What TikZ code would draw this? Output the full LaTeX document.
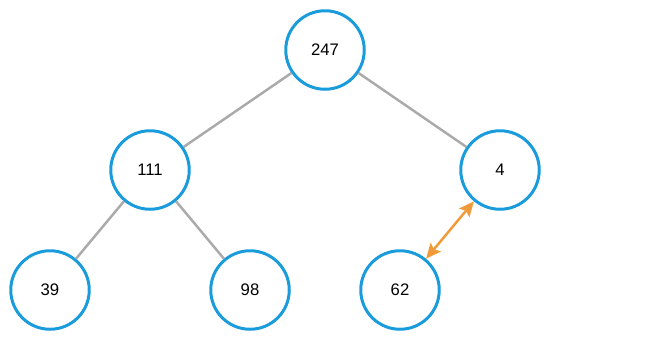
\documentclass[tikz,border=0pt]{standalone}
\usepackage{fontspec}
\setmainfont{Liberation Sans}
\usetikzlibrary{arrows.meta}
\definecolor{heapblue}{HTML}{1A9BDB}
\definecolor{edgegray}{HTML}{AAAAAA}
\definecolor{swaporange}{HTML}{F09A3A}
\begin{document}
\begin{tikzpicture}[>={Stealth[length=8.5pt,width=7.5pt,inset=1.5pt]},
	heapnode/.style={circle,draw=heapblue,line width=1.7pt,minimum size=1.57cm,inner sep=0pt,font=\fontsize{9.5}{11}\selectfont},
	heapedge/.style={draw=edgegray,line width=1.4pt}]
	\useasboundingbox (0,0) rectangle (13,6.8);
	\node[heapnode] (n247) at (6.5,5.8) {247};
	\node[heapnode] (n111) at (3,3.4) {111};
	\node[heapnode] (n4) at (10,3.4) {4};
	\node[heapnode] (n39) at (1,1) {39};
	\node[heapnode] (n98) at (5,1) {98};
	\node[heapnode] (n62) at (8,1) {62};
	\foreach \a/\b in {n247/n111,n247/n4,n111/n39,n111/n98}\draw[heapedge] (\a)--(\b);
	\draw[<->,swaporange,line width=1.4pt] (n62)--(n4);
\end{tikzpicture}
\end{document}
